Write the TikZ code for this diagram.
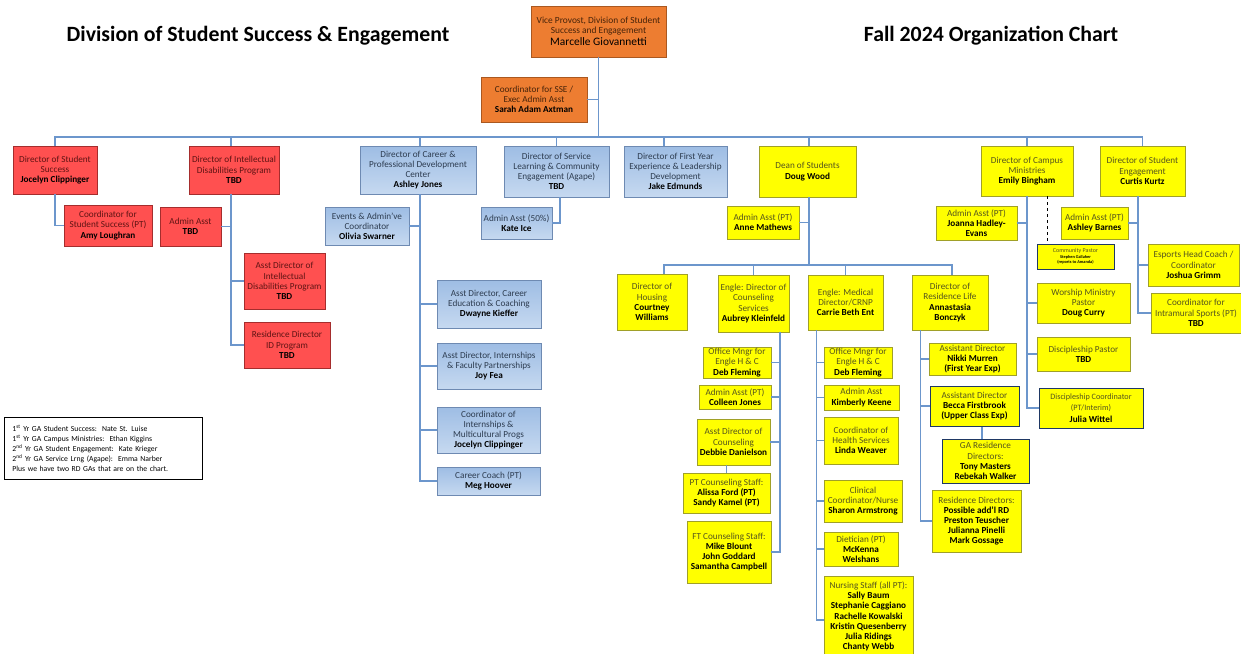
\documentclass[tikz,border=0pt]{standalone}
\usepackage{fontspec}
\setmainfont{Carlito}
\usetikzlibrary{positioning}

\definecolor{vporange}{RGB}{237,125,49}
\definecolor{vpline}{RGB}{170,88,32}
\definecolor{vptext}{RGB}{70,35,10}
\definecolor{idred}{RGB}{255,80,80}
\definecolor{idredline}{RGB}{165,45,45}
\definecolor{idredtext}{RGB}{95,20,20}
\definecolor{cdtop}{RGB}{158,189,228}
\definecolor{cdbottom}{RGB}{198,217,240}
\definecolor{cdline}{RGB}{110,138,178}
\definecolor{cdtext}{RGB}{45,60,80}
\definecolor{dsyellow}{RGB}{255,255,0}
\definecolor{dsline}{RGB}{160,160,40}
\definecolor{dstext}{RGB}{85,85,30}
\definecolor{navyline}{RGB}{31,56,100}
\definecolor{linkblue}{RGB}{108,150,204}

\tikzset{
  box/.style={rectangle, draw, line width=0.9pt, align=center, inner sep=0.5pt,
    font=\fontsize{9.2}{10.2}\selectfont},
  orangebox/.style={box, fill=vporange, draw=vpline, text=vptext},
  redbox/.style={box, fill=idred, draw=idredline, text=idredtext},
  bluebox/.style={box, top color=cdtop, bottom color=cdbottom, draw=cdline, text=cdtext},
  yellowbox/.style={box, fill=dsyellow, draw=dsline, text=dstext},
  navybox/.style={yellowbox, draw=navyline, line width=1pt},
  sz/.style 2 args={minimum width=#1, minimum height=#2},
  link/.style={draw=linkblue, line width=1.4pt},
  dashline/.style={draw=black, line width=0.8pt, dashed},
  heading/.style={font=\fontsize{21.8}{25}\selectfont\bfseries, text=black},
}
\newcommand{\nm}[1]{\textbf{\color{black}#1}}

\begin{document}
\begin{tikzpicture}[x=1pt, y=-1pt]
  \useasboundingbox[fill=white] (0,0) rectangle (1241,653);

  \node[heading] (divtitle) at (258,36) {Division of Student Success \& Engagement};
  \node[heading] (charttitle) at (991,36) {Fall 2024 Organization Chart};

  % top of the chart
  \node[orangebox, sz={135}{51}, font=\fontsize{9.4}{10}\selectfont] (vp) at (598.5,31.5)
    {Vice Provost, Division of Student\\Success and Engagement\\[2pt]
     {\fontsize{11.4}{12}\selectfont\color{black}Marcelle Giovannetti}};
  \node[orangebox, sz={106}{45}] (sse) at (534,99.5)
    {Coordinator for SSE /\\Exec Admin Asst\\\nm{Sarah Adam Axtman}};
  \coordinate (bus) at (598.5,137);

  % first row
  \node[redbox, sz={84}{48}] (dss) at (55,170)
    {Director of Student\\Success\\\nm{Jocelyn Clippinger}};
  \node[redbox, sz={88}{41}] (cssp) at (108,225.5)
    {Coordinator for\\Student Success (PT)\\\nm{Amy Loughran}};
  \node[redbox, sz={90}{48}] (idp) at (234,170)
    {Director of Intellectual\\Disabilities Program\\\nm{TBD}};
  \node[redbox, sz={61}{39}] (idpadmin) at (190.5,226.5)
    {Admin Asst\\\nm{TBD}};
  \node[redbox, sz={81}{56}] (idpasst) at (284.5,281)
    {Asst Director of\\Intellectual\\Disabilities Program\\\nm{TBD}};
  \node[redbox, sz={86}{46}] (idprd) at (287,345)
    {Residence Director\\ID Program\\\nm{TBD}};

  \node[bluebox, sz={116}{48}] (career) at (418,170)
    {Director of Career \&\\Professional Development\\Center\\\nm{Ashley Jones}};
  \node[bluebox, sz={84}{38}] (events) at (367,226)
    {Events \& Admin've\\Coordinator\\\nm{Olivia Swarner}};
  \node[bluebox, sz={104}{48}] (careered) at (489,304)
    {Asst Director, Career\\Education \& Coaching\\\nm{Dwayne Kieffer}};
  \node[bluebox, sz={104}{46}] (intern) at (489,366)
    {Asst Director, Internships\\\& Faculty Partnerships\\\nm{Joy Fea}};
  \node[bluebox, sz={103}{46}] (coordintern) at (488.5,430)
    {Coordinator of\\Internships \&\\Multicultural Progs\\\nm{Jocelyn Clippinger}};
  \node[bluebox, sz={103}{28}] (coach) at (488.5,481)
    {Career Coach (PT)\\\nm{Meg Hoover}};

  \node[bluebox, sz={105}{51}] (service) at (556.5,171.5)
    {Director of Service\\Learning \& Community\\Engagement (Agape)\\\nm{TBD}};
  \node[bluebox, sz={71}{32}] (svcadmin) at (516.5,223)
    {Admin Asst (50\%)\\\nm{Kate Ice}};
  \node[bluebox, sz={103}{51}] (firstyr) at (675.5,171.5)
    {Director of First Year\\Experience \& Leadership\\Development\\\nm{Jake Edmunds}};

  \node[yellowbox, sz={97}{51}] (dean) at (807.5,171.5)
    {Dean of Students\\\nm{Doug Wood}};
  \node[yellowbox, sz={72}{33}] (deanadmin) at (763,222.5)
    {Admin Asst (PT)\\\nm{Anne Mathews}};
  \coordinate (bus2) at (807.5,265);

  % dean of students
  \node[yellowbox, sz={70}{56}] (housing) at (652,302)
    {Director of\\Housing\\\nm{Courtney}\\\nm{Williams}};
  \node[yellowbox, sz={71}{57}] (couns) at (753.5,303.5)
    {Engle: Director of\\Counseling\\Services\\\nm{Aubrey Kleinfeld}};
  \node[yellowbox, sz={75}{55}] (med) at (845.5,302.5)
    {Engle: Medical\\Director/CRNP\\\nm{Carrie Beth Ent}};
  \node[yellowbox, sz={76}{55}] (reslife) at (950,302.5)
    {Director of\\Residence Life\\\nm{Annastasia}\\\nm{Bonczyk}};

  \node[yellowbox, sz={68}{31}] (counsom) at (737,362.5)
    {Office Mngr for\\Engle H \& C\\\nm{Deb Fleming}};
  \node[yellowbox, sz={72}{24}] (counsadmin) at (735,397)
    {Admin Asst (PT)\\\nm{Colleen Jones}};
  \node[yellowbox, sz={73}{46}] (acd) at (733.5,442)
    {Asst Director of\\Counseling\\\nm{Debbie Danielson}};
  \node[yellowbox, sz={87}{40}] (ptcs) at (726.5,493)
    {PT Counseling Staff:\\\nm{Alissa Ford (PT)}\\\nm{Sandy Kamel (PT)}};
  \node[yellowbox, sz={84}{62}] (ftcs) at (729,552)
    {FT Counseling Staff:\\\nm{Mike Blount}\\\nm{John Goddard}\\\nm{Samantha Campbell}};

  \node[yellowbox, sz={68}{31}] (medom) at (858,362.5)
    {Office Mngr for\\Engle H \& C\\\nm{Deb Fleming}};
  \node[yellowbox, sz={75}{25}] (medadmin) at (861.5,397.5)
    {Admin Asst\\\nm{Kimberly Keene}};
  \node[yellowbox, sz={74}{47}] (health) at (861,440.5)
    {Coordinator of\\Health Services\\\nm{Linda Weaver}};
  \node[yellowbox, sz={78}{42}] (clinical) at (863,501)
    {Clinical\\Coordinator/Nurse\\\nm{Sharon Armstrong}};
  \node[yellowbox, sz={74}{34}] (diet) at (861,549)
    {Dietician (PT)\\\nm{McKenna}\\\nm{Welshans}};
  \node[yellowbox, sz={89}{80}, anchor=north] (nursing) at (868.5,576)
    {Nursing Staff (all PT):\\\nm{Sally Baum}\\\nm{Stephanie Caggiano}\\\nm{Rachelle Kowalski}\\
     \nm{Kristin Quesenberry}\\\nm{Julia Ridings}\\\nm{Chanty Webb}};

  \node[yellowbox, sz={87}{32}] (nikki) at (972.5,359)
    {Assistant Director\\\nm{Nikki Murren}\\\nm{(First Year Exp)}};
  \node[navybox, sz={89}{40}] (becca) at (974.5,406)
    {Assistant Director\\\nm{Becca Firstbrook}\\\nm{(Upper Class Exp)}};
  \node[navybox, sz={87}{44}] (gard) at (985.5,461)
    {GA Residence\\Directors:\\\nm{Tony Masters}\\\nm{Rebekah Walker}};
  \node[yellowbox, sz={89}{62}] (rds) at (976.5,521)
    {Residence Directors:\\\nm{Possible add'l RD}\\\nm{Preston Teuscher}\\\nm{Julianna Pinelli}\\\nm{Mark Gossage}};

  % campus ministries, student engagement
  \node[yellowbox, sz={92}{50}] (cm) at (1027,171)
    {Director of Campus\\Ministries\\\nm{Emily Bingham}};
  \node[yellowbox, sz={81}{34}] (cmadmin) at (976.5,223)
    {Admin Asst (PT)\\\nm{Joanna Hadley-}\\\nm{Evans}};
  \node[navybox, sz={77}{25}, font=\fontsize{4.3}{5.6}\selectfont] (cp) at (1075.5,256.5)
    {{\fontsize{6}{7}\selectfont Community Pastor}\\
     \nm{Stephen Gallaher}\\
     \nm{(reports to Amanda)}};
  \node[yellowbox, sz={93}{40}] (worship) at (1083.5,303)
    {Worship Ministry\\Pastor\\\nm{Doug Curry}};
  \node[yellowbox, sz={93}{34}] (discp) at (1083.5,354)
    {Discipleship Pastor\\\nm{TBD}};
  \node[navybox, sz={104}{40}, font=\fontsize{8.2}{11.5}\selectfont] (discc) at (1091,408)
    {Discipleship Coordinator\\(PT/Interim)\\{\fontsize{9.2}{10}\selectfont\nm{Julia Wittel}}};

  \node[yellowbox, sz={85}{50}] (se) at (1142.5,171)
    {Director of Student\\Engagement\\\nm{Curtis Kurtz}};
  \node[yellowbox, sz={67}{32}] (seadmin) at (1094.5,223)
    {Admin Asst (PT)\\\nm{Ashley Barnes}};
  \node[yellowbox, sz={91}{42}] (esports) at (1193.5,265)
    {Esports Head Coach /\\Coordinator\\\nm{Joshua Grimm}};
  \node[yellowbox, sz={90}{40}] (intramural) at (1196,313)
    {Coordinator for\\Intramural Sports (PT)\\\nm{TBD}};

  % graduate assistants
  \node[draw=black, line width=0.9pt, anchor=north west, text width=182, inner xsep=8,
    inner ysep=4, minimum height=62, align=left, font=\fontsize{7.7}{10}\selectfont] (gas) at (4,417)
    {1\textsuperscript{st} Yr GA Student Success:\ \ Nate St. Luise\\
     1\textsuperscript{st} Yr GA Campus Ministries:\ \ Ethan Kiggins\\
     2\textsuperscript{nd} Yr GA Student Engagement:\ \ Kate Krieger\\
     2\textsuperscript{nd} Yr GA Service Lrng (Agape):\ \ Emma Narber\\
     Plus we have two RD GAs that are on the chart.};

  % connectors
  \draw[link] (vp.south) -- (bus);
  \draw[link] (sse.east) -- (sse.east -| vp.south);
  \draw[link] (dss.north) |- (bus) -| (se.north);
  \draw[link] ([xshift=-3]idp.north) -- ([xshift=-3]idp.north |- bus);
  \draw[link] ([xshift=2]career.north) -- ([xshift=2]career.north |- bus);
  \draw[link] (service.north) -- (service.north |- bus);
  \draw[link] ([xshift=-11.5]firstyr.north) -- ([xshift=-11.5]firstyr.north |- bus);
  \draw[link] ([xshift=1.5]dean.north) -- ([xshift=1.5]dean.north |- bus);
  \draw[link] (cm.north) -- (cm.north |- bus);

  \draw[link] (dss.south) |- (cssp.west);
  \coordinate (idpspine) at ([xshift=-3]idp.south);
  \draw[link] (idpspine) |- (idpadmin.east);
  \draw[link] (idpspine) |- (idpasst.west);
  \draw[link] (idpspine) |- (idprd.west);

  \coordinate (carspine) at ([xshift=2]career.south);
  \draw[link] (carspine) |- (events.east);
  \draw[link] (carspine) |- (careered.west);
  \draw[link] (carspine) |- (intern.west);
  \draw[link] (carspine) |- (coordintern.west);
  \draw[link] (carspine) |- (coach.west);
  \draw[link] ([xshift=3.5]service.south) |- (svcadmin.east);

  \draw[link] ([xshift=1.5]dean.south) |- (deanadmin.east);
  \draw[link] ([xshift=1.5]dean.south) -- ([xshift=1.5]dean.south |- bus2);
  \draw[link] ([xshift=12]housing.north) |- (bus2) -| ([xshift=2]reslife.north);
  \draw[link] (couns.north) -- (couns.north |- bus2);
  \draw[link] (med.north) -- (med.north |- bus2);

  \coordinate (counspine) at ([xshift=26.5]couns.south);
  \draw[link] (counspine) |- (counsom.east);
  \draw[link] (counspine) |- (counsadmin.east);
  \draw[link] (counspine) |- (acd.east);
  \draw[link] (counspine) |- (ftcs.east);
  \draw[link] (ptcs.north) -- (ptcs.north |- acd.south);

  \coordinate (medspine) at ([xshift=9]med.south west);
  \draw[link] (medspine) |- (medom.west);
  \draw[link] (medspine) |- (medadmin.west);
  \draw[link] (medspine) |- (health.west);
  \draw[link] (medspine) |- (clinical.west);
  \draw[link] (medspine) |- (diet.west);
  \draw[link] (medspine) |- ([yshift=-44]nursing.north west);

  \coordinate (resspine) at ([xshift=9]reslife.south west);
  \draw[link] (resspine) |- (nikki.west);
  \draw[link] (resspine) |- (becca.west);
  \draw[link] (resspine) |- (rds.west);
  \draw[link] ([xshift=-3.5]gard.north) -- ([xshift=-3.5]gard.north |- becca.south);

  \draw[link] (cm.south) |- (cmadmin.east);
  \draw[link] (cm.south) |- (worship.west);
  \draw[link] (cm.south) |- (discp.west);
  \draw[link] (cm.south) |- (discc.west);
  \draw[dashline] ([xshift=20]cm.south) -- ([xshift=20]cm.south |- cp.north);

  \coordinate (sespine) at ([xshift=-4.5]se.south);
  \draw[link] (sespine) |- (seadmin.east);
  \draw[link] (sespine) |- (esports.west);
  \draw[link] (sespine) |- (intramural.west);
\end{tikzpicture}
\end{document}
